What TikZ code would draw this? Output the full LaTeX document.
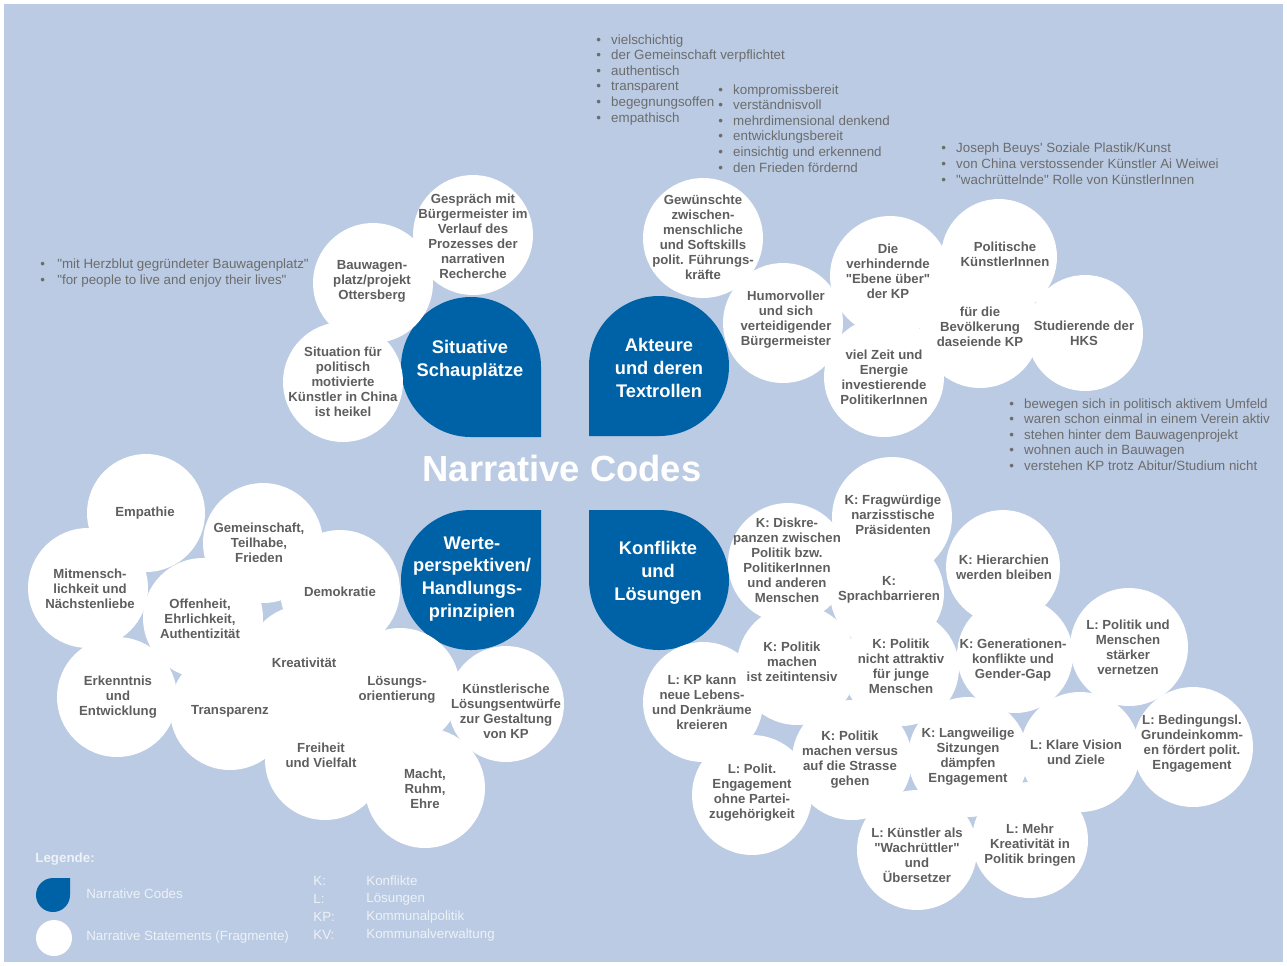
\documentclass[tikz,border=0pt]{standalone}
\usepackage{fontspec}
\setmainfont{Liberation Sans}
\definecolor{bgblue}{HTML}{BACBE3}
\definecolor{codeblue}{HTML}{0062A6}
\definecolor{stgray}{HTML}{5E5E5E}
\definecolor{bulgray}{HTML}{6C6C6C}
\definecolor{legwhite}{HTML}{EEF2F8}
\newcommand\qq{\textquotedbl}
\tikzset{
  blob/.style={circle, fill=white, inner sep=0pt},
  stxt/.style={align=center, text=stgray, inner sep=0pt, font=\fontsize{7.5}{8.5}\selectfont\bfseries},
  ctxt/.style={align=center, text=white, inner sep=0pt, font=\fontsize{10.4}{13}\selectfont\bfseries},
  bul/.style={anchor=base west, text=bulgray, inner sep=0pt, font=\fontsize{7.6}{8.8}\selectfont},
  legt/.style={anchor=west, text=legwhite, inner sep=0pt, font=\fontsize{7.6}{8.8}\selectfont},
}
\begin{document}
\begin{tikzpicture}[x=0.02cm, y=-0.02cm]
\useasboundingbox (0,0) rectangle (1287,965);
\fill[white] (0,0) rectangle (1287,965);
\fill[bgblue] (4,4) rectangle (1283,962);

% Narrative Codes (Tropfen)
\fill[codeblue] (541,437) -- (541,367) arc[start angle=0, end angle=-270, radius=70] -- cycle;
\fill[codeblue] (589,436) -- (659,436) arc[start angle=90, end angle=-180, radius=70] -- cycle;
\fill[codeblue] (541,510) -- (471,510) arc[start angle=-90, end angle=-360, radius=70] -- cycle;
\fill[codeblue] (589,510) -- (589,580) arc[start angle=180, end angle=-90, radius=70] -- cycle;

% Narrative Statements (Kreise)
\foreach \n/\x/\y/\r in {gesp/473/235/60, bauw/373/283/60, china/343/382/60,
    softs/703/238/60, humor/783/323/60, ebene/890/276/60, zeit/884/377/60,
    kuenst/999/257/58, bevoelk/980/328/60, hks/1085/333/58,
    empath/146/513/59, gemein/263/543/60, mitm/88/588/60, offen/203/618/60,
    demo/340/590/60, kreat/305/665/60, erkennt/117/697/60, transp/230/710/60,
    loesor/400/688/60, kuentl/506/704/58, freih/325/760/60, macht/425/788/60,
    diskr/788/563/60, fragw/892/517/60, hierar/1003/567/57, sprach/887/593/57,
    zeitint/797/665/60, attrakt/901/668/58, genera/1015/655/58, vernetz/1129/647/59,
    kpkann/703/702/60, engag/752/795/60, strasse/852/760/60, langw/968/757/60,
    vision/1080/752/60, beding/1193/747/60, wachr/917/850/60, mehrkr/1030/840/58}
  \node[blob, minimum size={\r*0.04cm}] (\n) at (\x,\y) {};

% Texte Situative Schauplaetze
\node[stxt] (gesp-t) at (473,236) {Gespräch mit\\Bürgermeister im\\Verlauf des\\Prozesses der\\narrativen\\Recherche};
\node[stxt] (bauw-t) at (372,281) {Bauwagen-\\platz/projekt\\Ottersberg};
\node[stxt] (china-t) at (343,382) {Situation für\\politisch\\motivierte\\Künstler in China\\ist heikel};

% Texte Akteure
\node[stxt] (softs-t) at (703,237) {Gewünschte\\zwischen-\\menschliche\\und Softskills\\polit. Führungs-\\kräfte};
\node[stxt] (humor-t) at (786,320) {Humorvoller\\und sich\\verteidigender\\Bürgermeister};
\node[stxt] (ebene-t) at (888,271) {Die\\verhindernde\\\qq Ebene über\qq\\der KP};
\node[stxt] (zeit-t) at (884,377) {viel Zeit und\\Energie\\investierende\\PolitikerInnen};
\node[stxt] (kuenst-t) at (1005,254) {Politische\\KünstlerInnen};
\node[stxt] (bevoelk-t) at (980,327) {für die\\Bevölkerung\\daseiende KP};
\node[stxt] (hks-t) at (1084,333) {Studierende der\\HKS};

% Texte Werteperspektiven
\node[stxt] (empath-t) at (145,513) {Empathie};
\node[stxt] (gemein-t) at (259,543) {Gemeinschaft,\\Teilhabe,\\Frieden};
\node[stxt] (mitm-t) at (90,589) {Mitmensch-\\lichkeit und\\Nächstenliebe};
\node[stxt] (offen-t) at (200,619) {Offenheit,\\Ehrlichkeit,\\Authentizität};
\node[stxt] (demo-t) at (340,592) {Demokratie};
\node[stxt] (kreat-t) at (304,663) {Kreativität};
\node[stxt] (erkennt-t) at (118,697) {Erkenntnis\\und\\Entwicklung};
\node[stxt] (transp-t) at (230,711) {Transparenz};
\node[stxt] (loesor-t) at (397,690) {Lösungs-\\orientierung};
\node[stxt] (kuentl-t) at (506,711) {Künstlerische\\Lösungsentwürfe\\zur Gestaltung\\von KP};
\node[stxt] (freih-t) at (321,755) {Freiheit\\und Vielfalt};
\node[stxt] (macht-t) at (425,789) {Macht,\\Ruhm,\\Ehre};

% Texte Konflikte und Loesungen
\node[stxt] (diskr-t) at (787,560) {K: Diskre-\\panzen zwischen\\Politik bzw.\\PolitikerInnen\\und anderen\\Menschen};
\node[stxt] (fragw-t) at (893,515) {K: Fragwürdige\\narzisstische\\Präsidenten};
\node[stxt] (hierar-t) at (1004,567) {K: Hierarchien\\werden bleiben};
\node[stxt] (sprach-t) at (889,590) {K:\\Sprachbarrieren};
\node[stxt] (zeitint-t) at (792,662) {K: Politik\\machen\\ist zeitintensiv};
\node[stxt] (attrakt-t) at (901,666) {K: Politik\\nicht attraktiv\\für junge\\Menschen};
\node[stxt] (genera-t) at (1013,660) {K: Generationen-\\konflikte und\\Gender-Gap};
\node[stxt] (vernetz-t) at (1128,647) {L: Politik und\\Menschen\\stärker\\vernetzen};
\node[stxt] (kpkann-t) at (702,702) {L: KP kann\\neue Lebens-\\und Denkräume\\kreieren};
\node[stxt] (engag-t) at (752,793) {L: Polit.\\Engagement\\ohne Partei-\\zugehörigkeit};
\node[stxt] (strasse-t) at (850,760) {K: Politik\\machen versus\\auf die Strasse\\gehen};
\node[stxt] (langw-t) at (968,757) {K: Langweilige\\Sitzungen\\dämpfen\\Engagement};
\node[stxt] (vision-t) at (1076,752) {L: Klare Vision\\und Ziele};
\node[stxt] (beding-t) at (1192,744) {L: Bedingungsl.\\Grundeinkomm-\\en fördert polit.\\Engagement};
\node[stxt] (wachr-t) at (917,855) {L: Künstler als\\\qq Wachrüttler\qq\\und\\Übersetzer};
\node[stxt] (mehrkr-t) at (1030,845) {L: Mehr\\Kreativität in\\Politik bringen};

% Codes
\node[ctxt] (situ) at (470,360) {Situative\\Schauplätze};
\node[ctxt] (akt) at (659,368) {Akteure\\und deren\\Textrollen};
\node[ctxt] (werte) at (472,579) {Werte-\\perspektiven/\\Handlungs-\\prinzipien};
\node[ctxt] (konfl) at (658,573) {Konflikte\\und\\Lösungen};
\node[text=white, inner sep=0pt, font=\fontsize{20.7}{24}\selectfont\bfseries] (title) at (562,468) {Narrative Codes};

% Aufzaehlungen
\foreach \t [count=\i from 0] in {vielschichtig, der Gemeinschaft verpflichtet, authentisch, transparent, begegnungsoffen, empathisch}
  \node[bul] (eig-\i) at (596,{44+15.6*\i}) {\textbullet\hspace{5.8pt}\t};
\foreach \t [count=\i from 0] in {kompromissbereit, verständnisvoll, mehrdimensional denkend, entwicklungsbereit, einsichtig und erkennend, den Frieden fördernd}
  \node[bul] (eig2-\i) at (718,{94+15.6*\i}) {\textbullet\hspace{5.8pt}\t};
\foreach \t [count=\i from 0] in {Joseph Beuys\textquotesingle{} Soziale Plastik/Kunst, von China verstossender Künstler Ai Weiwei, \qq wachrüttelnde\qq{} Rolle von KünstlerInnen}
  \node[bul] (kunst-\i) at (941,{152+16*\i}) {\textbullet\hspace{5.8pt}\t};
\foreach \t [count=\i from 0] in {\qq mit Herzblut gegründeter Bauwagenplatz\qq, \qq for people to live and enjoy their lives\qq}
  \node[bul] (bw-\i) at (40,{268+16*\i}) {\textbullet\hspace{7pt}\t};
\foreach \t [count=\i from 0] in {bewegen sich in politisch aktivem Umfeld, waren schon einmal in einem Verein aktiv, stehen hinter dem Bauwagenprojekt, wohnen auch in Bauwagen, verstehen KP trotz Abitur/Studium nicht}
  \node[bul] (stud-\i) at (1009,{408+15.5*\i}) {\textbullet\hspace{5.8pt}\t};

% Legende
\node[legt, font=\fontsize{7.6}{8.8}\selectfont\bfseries] (leg) at (35,859) {Legende:};
\fill[codeblue] (70,878) -- (53,878) arc[start angle=-90, end angle=-360, radius=17] -- cycle;
\node[blob, minimum size=0.72cm] (legcirc) at (54,938) {};
\node[legt] (leg-code) at (86,894) {Narrative Codes};
\node[legt] (leg-stmt) at (86,937) {Narrative Statements (Fragmente)};
\foreach \a/\b [count=\i from 0] in {K:/Konflikte, L:/Lösungen, KP:/Kommunalpolitik, KV:/Kommunalverwaltung} {
  \node[legt] (abk-\i) at (313,{881+18*\i}) {\a};
  \node[legt] (abkt-\i) at (366,{881+18*\i}) {\b};
}
\end{tikzpicture}
\end{document}
